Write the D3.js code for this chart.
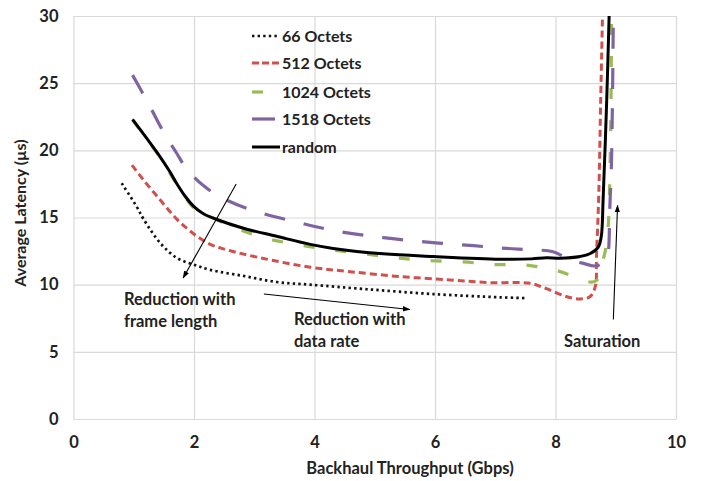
<!DOCTYPE html>
<html>
<head>
<meta charset="utf-8">
<script src="https://cdn.jsdelivr.net/npm/d3@7"></script>
<style>
  body { margin: 0; background: #fff; }
  svg text { font-family: Lato, "Open Sans", sans-serif; font-weight: bold; fill: #222; }
</style>
</head>
<body>
<svg id="chart" width="701" height="481"></svg>
<script>
// ---- data ----
const xTicks = [0, 2, 4, 6, 8, 10];
const yTicks = [0, 5, 10, 15, 20, 25, 30];
const seriesNames = ["66 Octets", "512 Octets", "1024 Octets", "1518 Octets", "random"];

const x66 = [0.8, 1.05, 1.16, 1.44, 1.71, 1.99, 2.27, 2.82, 3.37, 3.93, 4.87, 5.97, 7.08, 7.51];
const y66 = [17.55, 15.8, 14.9, 13.1, 12.0, 11.5, 11.1, 10.65, 10.2, 10.0, 9.66, 9.3, 9.06, 9.0];

const x512 = [0.97, 1.16, 1.44, 1.71, 1.99, 2.27, 2.54, 3.10, 3.93, 4.59, 5.42, 6.25, 6.91, 7.58, 7.85, 8.19, 8.41, 8.57, 8.66, 8.68, 8.72, 8.75, 8.78];
const y512 = [18.9, 17.8, 16.3, 14.9, 13.8, 13.0, 12.6, 12.0, 11.3, 10.97, 10.6, 10.35, 10.15, 10.1, 9.7, 9.1, 8.94, 9.1, 9.85, 12.1, 17.0, 23.75, 30];

const x1024 = [0.98, 1.44, 1.71, 1.85, 1.99, 2.21, 2.65, 3.15, 3.70, 4.26, 4.81, 5.36, 5.86, 6.47, 6.97, 7.47, 8.02, 8.57, 8.68, 8.79, 8.86, 8.91, 8.93];
const y1024 = [22.25, 19.45, 17.5, 16.55, 15.75, 15.2, 14.3, 13.5, 13.0, 12.6, 12.3, 12.0, 11.8, 11.7, 11.5, 11.47, 11.05, 10.2, 10.3, 11.84, 13.5, 20.0, 30];

const x1518 = [0.98, 1.13, 1.30, 1.49, 1.71, 1.88, 2.15, 2.43, 2.93, 3.76, 4.42, 5.14, 5.92, 6.64, 7.19, 7.58, 7.96, 8.24, 8.45, 8.68, 8.85, 8.88, 8.90, 8.93, 8.96];
const y1518 = [25.6, 24.4, 23.0, 21.4, 19.8, 18.6, 17.4, 16.55, 15.6, 14.6, 13.95, 13.5, 13.15, 12.9, 12.7, 12.6, 12.45, 11.84, 11.6, 11.4, 12.0, 12.6, 15.5, 19.3, 30];

const xRnd = [0.98, 1.44, 1.6, 1.71, 1.85, 1.99, 2.15, 2.38, 2.82, 3.37, 3.93, 4.31, 5.14, 5.97, 7.08, 7.6, 7.85, 8.07, 8.41, 8.57, 8.71, 8.76, 8.79, 8.85, 8.89];
const yRnd = [22.3, 19.5, 18.4, 17.55, 16.6, 15.85, 15.3, 14.85, 14.2, 13.6, 13.0, 12.7, 12.3, 12.1, 11.9, 11.92, 12.0, 11.97, 12.1, 12.3, 12.8, 13.6, 16.3, 23.75, 30];

const annFrameArrow = [[2.70, 17.5], [1.82, 10.5]];
const annRateArrow = [[3.16, 9.3], [5.58, 8.15]];
const annSatArrow = [[8.96, 7.4], [9.03, 15.9]];

// ---- layout ----
const svg = d3.select("#chart");
const x = d3.scaleLinear().domain([0, 10]).range([73.5, 676]);
const y = d3.scaleLinear().domain([0, 30]).range([419, 16]);
const plotW = 676 - 73.5, plotH = 419 - 16;

// grid + axes
const yAxis = d3.axisLeft(y).tickValues(yTicks).tickSize(-plotW).tickPadding(15);
const gy = svg.append("g").attr("transform", "translate(73.5,0)").call(yAxis);
const xAxis = d3.axisBottom(x).tickValues(xTicks).tickSize(-plotH).tickPadding(17);
const gx = svg.append("g").attr("transform", "translate(0,419)").call(xAxis);
[gx, gy].forEach(g => {
  g.select(".domain").remove();
  g.selectAll(".tick line").attr("stroke", "#d9d9d9").attr("stroke-width", 1.2);
  g.selectAll(".tick text").style("font-size", "16.5px").attr("fill", "#222");
});

// axis titles
svg.append("text").attr("x", 410).attr("y", 474).attr("text-anchor", "middle")
  .style("font-size", "16.5px").text("Backhaul Throughput (Gbps)");
svg.append("text").attr("transform", "translate(26,213) rotate(-90)").attr("text-anchor", "middle")
  .style("font-size", "16px").text("Average Latency (µs)");

// series
const styles = [
  { color: "#111", width: 2.7, dash: "2.4,3.2" },
  { color: "#d0504d", width: 3, dash: "7,4" },
  { color: "#9bbb59", width: 3.2, dash: "11,21" },
  { color: "#8064a2", width: 3.2, dash: "21,19" },
  { color: "#000", width: 3, dash: null }
];
const allX = [x66, x512, x1024, x1518, xRnd];
const allY = [y66, y512, y1024, y1518, yRnd];

svg.append("clipPath").attr("id", "clip").append("rect")
  .attr("x", 73.5).attr("y", 16).attr("width", plotW).attr("height", plotH);

const line = d3.line().x(d => x(d[0])).y(d => y(d[1])).curve(d3.curveCatmullRom.alpha(0.5));
const gLines = svg.append("g").attr("clip-path", "url(#clip)");
allX.forEach((xs, i) => {
  const pts = xs.map((v, j) => [v, allY[i][j]]);
  gLines.append("path").datum(pts).attr("d", line)
    .attr("fill", "none").attr("stroke", styles[i].color)
    .attr("stroke-width", styles[i].width)
    .attr("stroke-dasharray", styles[i].dash)
    .attr("stroke-linejoin", "round");
});

// legend
const legY = [36, 63, 92, 119, 147];
const legSample = [[252, 280], [252, 280], [252, 263], [252, 275], [252, 280]];
const legDash = ["2.4,3.2", "7,3", null, null, null];
seriesNames.forEach((name, i) => {
  svg.append("line").attr("x1", legSample[i][0]).attr("x2", legSample[i][1])
    .attr("y1", legY[i]).attr("y2", legY[i])
    .attr("stroke", styles[i].color).attr("stroke-width", styles[i].width)
    .attr("stroke-dasharray", legDash[i]);
  svg.append("text").attr("x", 282).attr("y", legY[i]).attr("dy", "0.36em")
    .style("font-size", "16px").text(name);
});

// annotations
const defs = svg.append("defs");
defs.append("marker").attr("id", "arr").attr("viewBox", "0 0 10 10").attr("refX", 9).attr("refY", 5)
  .attr("markerWidth", 7).attr("markerHeight", 7).attr("orient", "auto")
  .append("path").attr("d", "M0,1.5 L10,5 L0,8.5 Z").attr("fill", "#000");
[annFrameArrow, annRateArrow, annSatArrow].forEach(a => {
  svg.append("line").attr("x1", x(a[0][0])).attr("y1", y(a[0][1]))
    .attr("x2", x(a[1][0])).attr("y2", y(a[1][1]))
    .attr("stroke", "#000").attr("stroke-width", 1.1).attr("marker-end", "url(#arr)");
});
const notes = [
  { t: "Reduction with", x: 124, y: 305 },
  { t: "frame length", x: 124, y: 327 },
  { t: "Reduction with", x: 294, y: 325 },
  { t: "data rate", x: 294, y: 347 },
  { t: "Saturation", x: 564, y: 347 }
];
notes.forEach(n => svg.append("text").attr("x", n.x).attr("y", n.y).style("font-size", "16.5px").text(n.t));
</script>
</body>
</html>
